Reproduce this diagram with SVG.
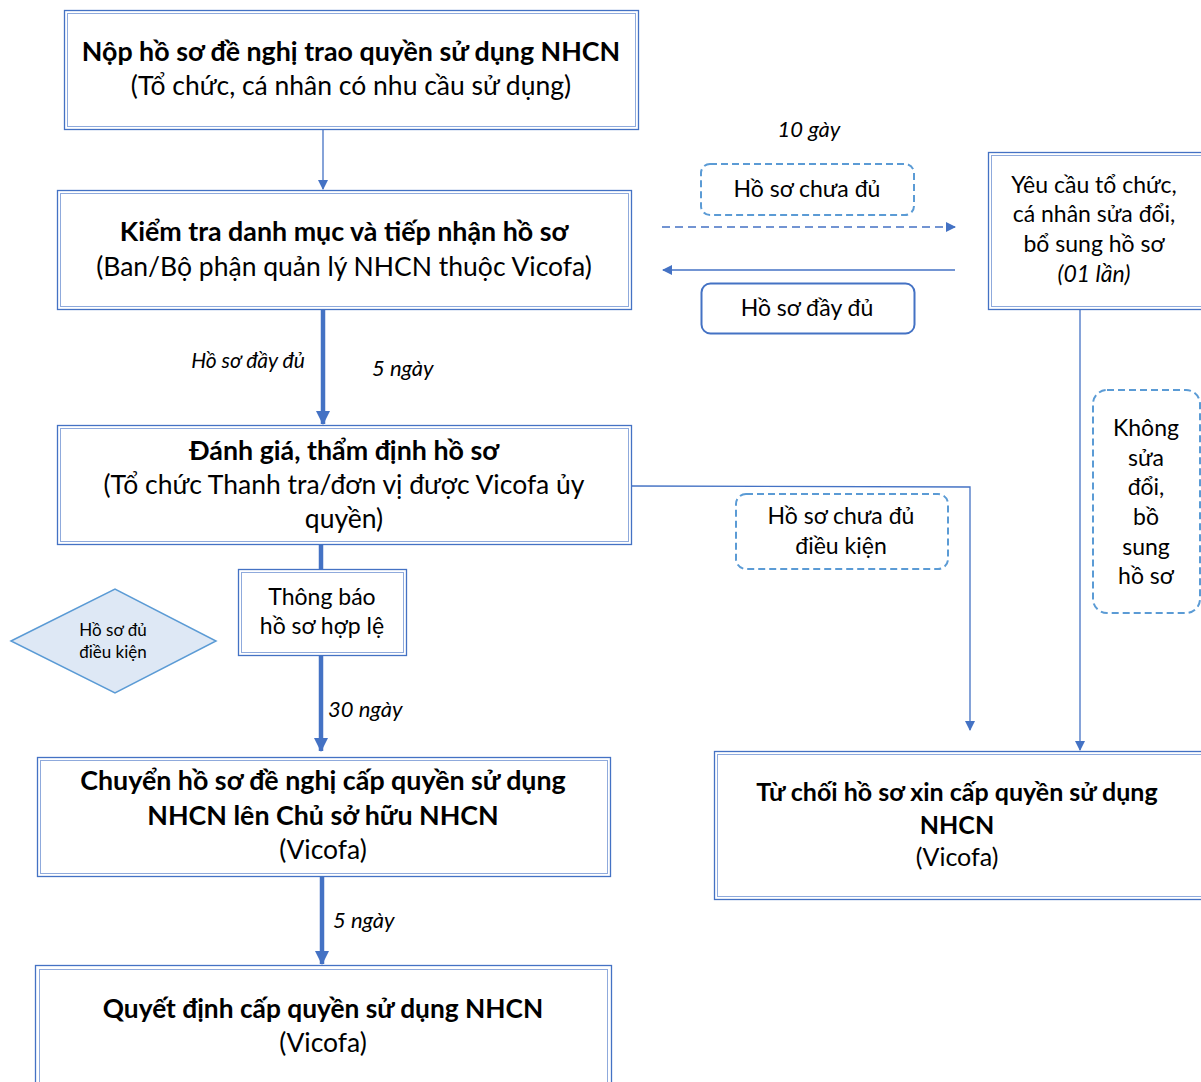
<svg xmlns="http://www.w3.org/2000/svg" width="1201" height="1082" viewBox="0 0 1201 1082">
<style>
text{font-family:Lato,"Noto Sans",sans-serif;fill:#000;text-anchor:middle}
text.st{text-anchor:start}
.b{font-weight:bold;font-size:26.8px}
.n{font-size:26.5px}
.s{font-size:23px}
.i{font-style:italic;font-size:22px}
.o{fill:#fff;stroke:#4472c4;stroke-width:1.3}
.in{fill:none;stroke:#8faadc;stroke-width:1}
.d{fill:#fff;stroke:#5b9bd5;stroke-width:2;stroke-dasharray:7 4}
.c{fill:none;stroke:#4472c4;stroke-width:1.3}
.t{fill:none;stroke:#4472c4;stroke-width:4.5}
</style>
<defs>
<marker id="a" markerWidth="10" markerHeight="10" refX="9" refY="5" orient="auto" markerUnits="userSpaceOnUse"><path d="M0,0 L10,5 L0,10 Z" fill="#4472c4"/></marker>
<marker id="at" markerWidth="14" markerHeight="14" refX="13" refY="7" orient="auto" markerUnits="userSpaceOnUse"><path d="M0,0 L14,7 L0,14 Z" fill="#4472c4"/></marker>
</defs>
<rect width="1201" height="1082" fill="#fff"/>
<g id="connectors">
<line class="c" x1="323" y1="129" x2="323" y2="189" marker-end="url(#a)"/>
<line class="t" x1="323" y1="309" x2="323" y2="424" marker-end="url(#at)"/>
<line class="t" x1="321" y1="545" x2="321" y2="569"/>
<line class="t" x1="321" y1="655" x2="321" y2="751" marker-end="url(#at)"/>
<line class="t" x1="322" y1="877" x2="322" y2="964" marker-end="url(#at)"/>
<line class="c" x1="662" y1="227" x2="955" y2="227" stroke-dasharray="8 5" marker-end="url(#a)"/>
<line class="c" x1="955" y1="270" x2="663" y2="270" marker-end="url(#a)"/>
<polyline class="c" points="632,486 970,487 970,730" marker-end="url(#a)"/>
<line class="c" x1="1080" y1="309" x2="1080" y2="750" marker-end="url(#a)"/>
<text class="i st" x="372" y="376">5 ngày</text>
<text class="i" x="248" y="368" style="font-size:21px">Hồ sơ đầy đủ</text>
<text class="i st" x="328" y="717">30 ngày</text>
<text class="i st" x="333" y="928">5 ngày</text>
<text class="i" x="809" y="137">10 gày</text>
</g>
<g id="n1">
<rect class="o" x="64.5" y="10.5" width="574" height="119"/>
<rect class="in" x="67.5" y="13.5" width="568" height="113"/>
<text class="b" x="351" y="61">Nộp hồ sơ đề nghị trao quyền sử dụng NHCN</text>
<text class="n" x="351" y="95">(Tổ chức, cá nhân có nhu cầu sử dụng)</text>
</g>
<g id="n2">
<rect class="o" x="57.5" y="190.5" width="574" height="119"/>
<rect class="in" x="60.5" y="193.5" width="568" height="113"/>
<text class="b" x="344" y="241">Kiểm tra danh mục và tiếp nhận hồ sơ</text>
<text class="n" x="344" y="276">(Ban/Bộ phận quản lý NHCN thuộc Vicofa)</text>
</g>
<g id="n3">
<rect class="o" x="57.5" y="425.5" width="574" height="119"/>
<rect class="in" x="60.5" y="428.5" width="568" height="113"/>
<text class="b" x="344" y="460">Đánh giá, thẩm định hồ sơ</text>
<text class="n" x="344" y="494">(Tổ chức Thanh tra/đơn vị được Vicofa ủy</text>
<text class="n" x="344" y="528">quyền)</text>
</g>
<g id="n4">
<rect class="o" x="238.5" y="569.5" width="168" height="86"/>
<rect class="in" x="241.5" y="572.5" width="162" height="80"/>
<text class="s" x="322" y="605">Thông báo</text>
<text class="s" x="322" y="634">hồ sơ hợp lệ</text>
</g>
<g id="n5">
<polygon points="11,641 115,589 216,641 115,693" fill="#dee8f5" stroke="#5b9bd5" stroke-width="1.5"/>
<text x="113" y="636" font-size="17">Hồ sơ đủ</text>
<text x="113" y="658" font-size="17">điều kiện</text>
</g>
<g id="n6">
<rect class="o" x="37.5" y="757.5" width="573" height="119"/>
<rect class="in" x="40.5" y="760.5" width="567" height="113"/>
<text class="b" x="323" y="790">Chuyển hồ sơ đề nghị cấp quyền sử dụng</text>
<text class="b" x="323" y="825">NHCN lên Chủ sở hữu NHCN</text>
<text class="n" x="323" y="859">(Vicofa)</text>
</g>
<g id="n7">
<rect class="o" x="35.5" y="965.5" width="576" height="130" stroke-width="2"/>
<rect class="in" x="39.5" y="969.5" width="568" height="122" stroke="#4472c4"/>
<text class="b" x="323" y="1018" style="font-size:26.3px">Quyết định cấp quyền sử dụng NHCN</text>
<text class="n" x="323" y="1052">(Vicofa)</text>
</g>
<g id="n8">
<rect class="d" x="701" y="164" width="213" height="51" rx="9"/>
<text class="s" x="807" y="197">Hồ sơ chưa đủ</text>
</g>
<g id="n9">
<rect x="701.5" y="283.5" width="213" height="50" rx="9" fill="#fff" stroke="#4472c4" stroke-width="2"/>
<text class="s" x="807" y="316">Hồ sơ đầy đủ</text>
</g>
<g id="n10">
<rect class="o" x="988.5" y="152.5" width="214" height="157"/>
<rect class="in" x="991.5" y="155.5" width="214" height="151"/>
<text class="s" x="1094" y="193">Yêu cầu tổ chức,</text>
<text class="s" x="1094" y="222">cá nhân sửa đổi,</text>
<text class="s" x="1094" y="252">bổ sung hồ sơ</text>
<text class="s" x="1094" y="282" font-style="italic">(01 lần)</text>
</g>
<g id="n11">
<rect class="d" x="1093" y="390" width="107" height="223" rx="14"/>
<text class="s" x="1146" y="436">Không</text>
<text class="s" x="1146" y="466">sửa</text>
<text class="s" x="1146" y="495">đổi,</text>
<text class="s" x="1146" y="525">bồ</text>
<text class="s" x="1146" y="555">sung</text>
<text class="s" x="1146" y="584">hồ sơ</text>
</g>
<g id="n12">
<rect class="d" x="736" y="494" width="212" height="75" rx="10"/>
<text class="s" x="841" y="524">Hồ sơ chưa đủ</text>
<text class="s" x="841" y="554">điều kiện</text>
</g>
<g id="n13">
<rect class="o" x="714.5" y="751.5" width="488" height="148"/>
<rect class="in" x="717.5" y="754.5" width="488" height="142"/>
<text class="b" x="957" y="801" style="font-size:25px">Từ chối hồ sơ xin cấp quyền sử dụng</text>
<text class="b" x="957" y="834" style="font-size:25px">NHCN</text>
<text class="n" x="957" y="866" style="font-size:25px">(Vicofa)</text>
</g>
</svg>
